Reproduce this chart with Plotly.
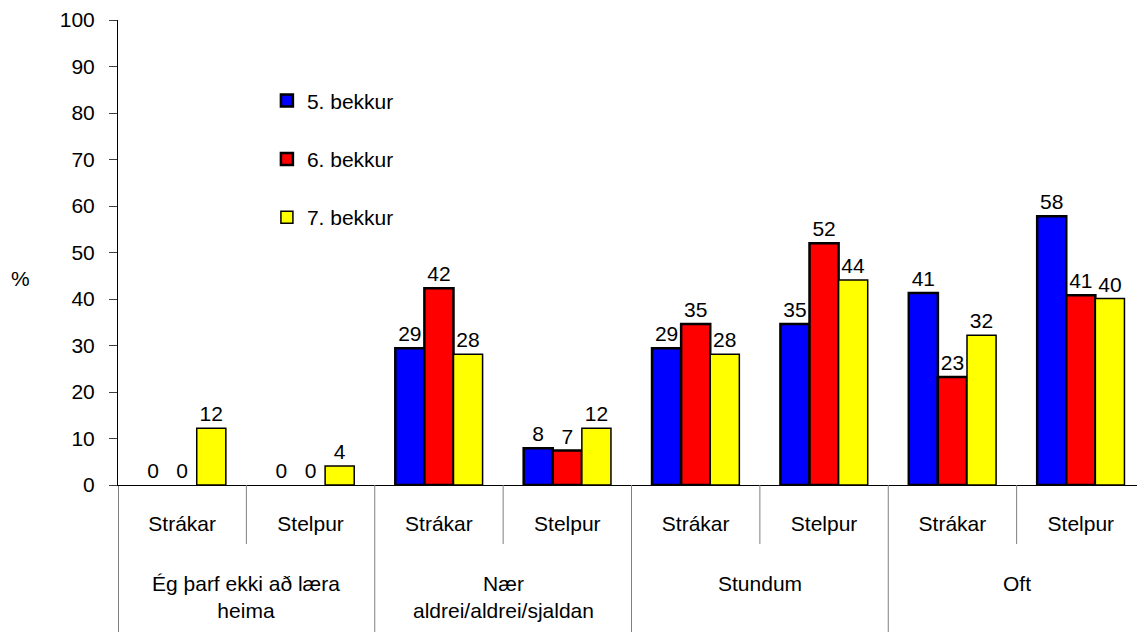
import plotly.graph_objects as go

groups = ["Ég þarf ekki að læra<br>heima", "Nær<br>aldrei/aldrei/sjaldan", "Stundum", "Oft"]
genders = ["Strákar", "Stelpur"]

grade5 = [0, 0, 29.4, 7.9, 29.4, 34.6, 41.3, 57.8]
grade6 = [0, 0, 42.3, 7.4, 34.6, 52.0, 23.2, 40.8]
grade7 = [12.2, 4.1, 28.1, 12.2, 28.1, 44.1, 32.2, 40.1]

series = [("5. bekkur", grade5, "#0000ff", 2.5),
          ("6. bekkur", grade6, "#ff0000", 2.5),
          ("7. bekkur", grade7, "#ffff00", 1.5)]

keys = [f"{g}|{s}" for g in groups for s in genders]
inner = genders * len(groups)

FONT = "Liberation Sans, Arial, sans-serif"

fig = go.Figure()
for name, vals, color, lw in series:
    # zero bars get no outline
    fig.add_trace(go.Bar(
        x=keys, y=vals, name=name, showlegend=False, offsetgroup=name,
        marker=dict(color=color,
                    line=dict(color="black", width=[lw if v > 0 else 0 for v in vals])),
        text=[f"{v:.0f}" for v in vals], textposition="outside",
        textfont=dict(size=21, color="black"), cliponaxis=False,
        legendgroup=name,
    ))
    # legend entry with a full outline
    fig.add_trace(go.Bar(
        x=keys[:1], y=[None], name=name, offsetgroup=name, legendgroup=name,
        marker=dict(color=color, line=dict(color="black", width=lw)),
        hoverinfo="skip",
    ))

# category dividers below the axis
plot_h = 465
shapes = []
n = len(keys)
for k in range(n):
    pos = k - 0.5
    outer_edge = k % len(genders) == 0
    depth = 147 if outer_edge else 59
    shapes.append(dict(type="line", xref="x", yref="paper", x0=pos, x1=pos,
                       y0=0, y1=-depth / plot_h,
                       line=dict(color="black" if k == 0 else "#7f7f7f", width=1)))

annotations = [dict(text="%", x=(20 - 118) / 1027, y=(485 - 278) / plot_h,
                    xref="paper", yref="paper", xanchor="center", yanchor="middle",
                    showarrow=False, font=dict(size=21))]
for i, g in enumerate(groups):
    annotations.append(dict(text=g, x=i * len(genders) + (len(genders) - 1) / 2, xref="x",
                            y=(485 - 570) / plot_h, yref="paper", yanchor="top",
                            showarrow=False, font=dict(size=21)))

fig.update_layout(
    barmode="group", bargap=0.32, bargroupgap=0,
    width=1137, height=624,
    margin=dict(l=110, r=0, t=12, b=147),
    plot_bgcolor="white", paper_bgcolor="white",
    font=dict(family=FONT, size=21, color="black"),
    legend=dict(x=0.145, y=0.87, xanchor="left", yanchor="top",
                font=dict(size=21), tracegroupgap=28, bgcolor="rgba(0,0,0,0)"),
    shapes=shapes,
    annotations=annotations,
)
fig.update_yaxes(range=[0, 100], dtick=10, showgrid=False, zeroline=False,
                 showline=True, linecolor="black", linewidth=1,
                 ticks="outside", ticklen=8, tickcolor="#404040",
                 ticklabelstandoff=10)
fig.update_xaxes(showline=True, linecolor="black", linewidth=1, ticks="",
                 tickvals=keys, ticktext=inner, ticklabelstandoff=20,
                 range=[-0.5, n - 0.5])

fig.write_html("out.html")
